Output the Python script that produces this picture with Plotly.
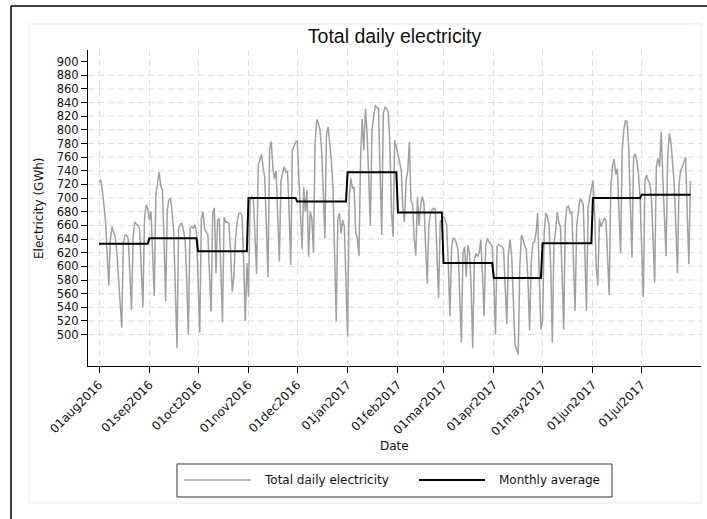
import pandas as pd
import plotly.graph_objects as go

# ---------------- data ----------------
start_date = "2016-08-01"
daily_gwh = [
    724, 727, 712, 690, 667, 620, 572,
    640, 658, 650, 643, 620, 580, 545,
    510, 635, 646, 646, 640, 590, 536,
    643, 665, 662, 660, 655, 600, 540,
    668, 690, 685, 668, 680, 620, 557,
    705, 722, 738, 718, 712, 640, 549,
    682, 697, 700, 680, 650, 580, 480,
    655, 662, 663, 650, 640, 580, 500,
    656, 658, 656, 661, 650, 590, 503,
    670, 680, 655, 651, 646, 590, 534,
    678, 686, 590, 668, 670, 600, 518,
    672, 665, 665, 663, 620, 563, 585,
    640, 665, 677, 678, 675, 610, 520,
    605, 555, 695, 702, 700, 640, 589,
    748, 758, 764, 745, 730, 660, 584,
    772, 783, 745, 728, 740, 680, 607,
    726, 738, 746, 738, 740, 680, 602,
    770, 777, 782, 784, 730, 680, 625,
    716, 680, 712, 614, 680, 670, 620,
    780, 815, 810, 800, 770, 710, 641,
    794, 804, 780, 755, 715, 600, 519,
    670, 678, 648, 668, 658, 580, 497,
    700, 729, 714, 716, 650, 640, 615,
    760, 816, 770, 831, 795, 730, 660,
    800, 816, 836, 833, 831, 740, 646,
    825, 833, 831, 826, 780, 680, 643,
    785, 775, 765, 755, 741, 687, 665,
    726, 740, 782, 697, 690, 640, 616,
    702, 660, 690, 702, 692, 630, 575,
    660, 678, 683, 685, 683, 620, 554,
    665, 670, 673, 668, 660, 600, 527,
    629, 641, 640, 634, 624, 560, 489,
    619, 629, 585, 631, 620, 573, 480,
    610, 619, 614, 620, 639, 590, 527,
    629, 641, 636, 632, 629, 580, 500,
    629, 632, 630, 629, 625, 575, 516,
    619, 639, 614, 540, 487, 478, 471,
    600, 646, 640, 630, 625, 580, 506,
    605, 634, 636, 650, 678, 580, 508,
    520, 650, 678, 673, 660, 600, 488,
    634, 651, 680, 665, 658, 590, 507,
    665, 687, 688, 678, 680, 610, 535,
    660, 685, 699, 697, 690, 620, 535,
    687, 700, 710, 726, 680, 600, 572,
    670, 658, 663, 670, 668, 610, 558,
    716, 746, 757, 735, 743, 680, 619,
    770, 800, 814, 811, 775, 690, 613,
    760, 765, 755, 736, 700, 640, 555,
    725, 734, 726, 721, 700, 640, 576,
    746, 758, 746, 797, 730, 680, 615,
    760, 795, 782, 755, 721, 660, 590,
    721, 740, 746, 755, 760, 680, 603,
    725,
]
month_starts = ["2016-08-01", "2016-09-01", "2016-10-01", "2016-11-01",
                "2016-12-01", "2017-01-01", "2017-02-01", "2017-03-01",
                "2017-04-01", "2017-05-01", "2017-06-01", "2017-07-01"]
monthly_avg = [633, 641, 622, 700, 695, 738, 679, 605, 583, 634, 700, 705]
tick_labels = ["01aug2016", "01sep2016", "01oct2016", "01nov2016",
               "01dec2016", "01jan2017", "01feb2017", "01mar2017",
               "01apr2017", "01may2017", "01jun2017", "01jul2017"]
y_ticks = list(range(500, 901, 20))
grid_values = list(range(500, 881, 20))

# ---------------- build ----------------
dates = pd.date_range(start_date, periods=len(daily_gwh), freq="D")
month_idx = [(d.year - 2016) * 12 + d.month - 8 for d in dates]
monthly_daily = [monthly_avg[i] for i in month_idx]

TITLE_FONT = "Liberation Sans, Arial, Helvetica, sans-serif"
FONT = "DejaVu Sans, Verdana, sans-serif"
TXT = "#111111"
YTICK_SIZE = 11.5
XTICK_SIZE = 12
LAB_SIZE = 12

fig = go.Figure()
fig.add_trace(go.Scatter(x=dates, y=daily_gwh, mode="lines",
                         line=dict(color="#a0a0a0", width=1.5),
                         name="Total daily electricity", showlegend=False))
fig.add_trace(go.Scatter(x=dates, y=monthly_daily, mode="lines",
                         line=dict(color="#000000", width=2),
                         name="Monthly average", showlegend=False))

shapes = []
# horizontal dashed grid
for g in grid_values:
    shapes.append(dict(type="line", xref="paper", yref="y", x0=0, x1=1, y0=g, y1=g,
                       line=dict(color="#dedede", width=1, dash="6px,4px"), layer="below"))
# inner light frame
shapes.append(dict(type="rect", xref="paper", yref="paper",
                   x0=-0.0962, x1=1.0, y0=-0.4335, y1=1.0823,
                   line=dict(color="#e3ecee", width=1), layer="below"))
# outer black frame (top and left edges)
shapes.append(dict(type="line", xref="paper", yref="paper",
                   x0=-0.1256, x1=1.02, y0=1.1392, y1=1.1392,
                   line=dict(color="#000000", width=1.5)))
shapes.append(dict(type="line", xref="paper", yref="paper",
                   x0=-0.1256, x1=-0.1256, y0=1.1392, y1=-0.5,
                   line=dict(color="#000000", width=1.5)))
# legend box and samples
shapes.append(dict(type="rect", xref="paper", yref="paper",
                   x0=0.1452, x1=0.8548, y0=-0.4146, y1=-0.3101,
                   line=dict(color="#333333", width=1), fillcolor="white"))
shapes.append(dict(type="line", xref="paper", yref="paper",
                   x0=0.1566, x1=0.2659, y0=-0.3608, y1=-0.3608,
                   line=dict(color="#a0a0a0", width=1.5)))
shapes.append(dict(type="line", xref="paper", yref="paper",
                   x0=0.540, x1=0.6476, y0=-0.3608, y1=-0.3608,
                   line=dict(color="#000000", width=2)))

annotations = [
    dict(text="Electricity (GWh)", xref="paper", yref="paper", x=-0.0799, y=0.5,
         textangle=-90, showarrow=False, xanchor="center", yanchor="middle",
         font=dict(family=FONT, size=LAB_SIZE, color=TXT)),
    dict(text="Date", xref="paper", yref="paper", x=0.5, y=-0.253,
         showarrow=False, xanchor="center", yanchor="middle",
         font=dict(family=FONT, size=LAB_SIZE, color=TXT)),
    dict(text="Total daily electricity", xref="paper", yref="paper", x=0.2838, y=-0.3608,
         showarrow=False, xanchor="left", yanchor="middle",
         font=dict(family=FONT, size=LAB_SIZE, color=TXT)),
    dict(text="Monthly average", xref="paper", yref="paper", x=0.6672, y=-0.3608,
         showarrow=False, xanchor="left", yanchor="middle",
         font=dict(family=FONT, size=LAB_SIZE, color=TXT)),
]

fig.update_layout(
    width=707, height=519,
    margin=dict(l=88, r=6, t=50, b=153),
    paper_bgcolor="white", plot_bgcolor="white",
    title=dict(text="Total daily electricity", x=0.558, y=1 - 36 / 519,
               xanchor="center", yanchor="middle",
               font=dict(family=TITLE_FONT, size=19.5, color=TXT)),
    shapes=shapes, annotations=annotations,
    showlegend=False,
)
fig.update_xaxes(
    type="date",
    range=["2016-07-25 05:30", "2017-08-06 12:00"],
    tickmode="array", tickvals=pd.to_datetime(month_starts), ticktext=tick_labels,
    tickangle=-45, ticks="outside", ticklen=6, tickwidth=1, tickcolor="black",
    showline=True, linecolor="black", linewidth=1,
    showgrid=True, gridcolor="#dedede", gridwidth=1, griddash="6px,4px",
    zeroline=False, automargin=False,
    tickfont=dict(family=FONT, size=XTICK_SIZE, color=TXT),
)
fig.update_yaxes(
    range=[454, 917],
    tickmode="array", tickvals=y_ticks,
    ticks="outside", ticklen=6, tickwidth=1, tickcolor="black",
    showline=True, linecolor="black", linewidth=1,
    showgrid=False, zeroline=False, automargin=False,
    tickfont=dict(family=FONT, size=YTICK_SIZE, color=TXT),
)

fig.write_html("out.html",
               config={"displayModeBar": False},
               post_script="document.body.style.margin='0px';document.body.style.overflow='hidden';")
